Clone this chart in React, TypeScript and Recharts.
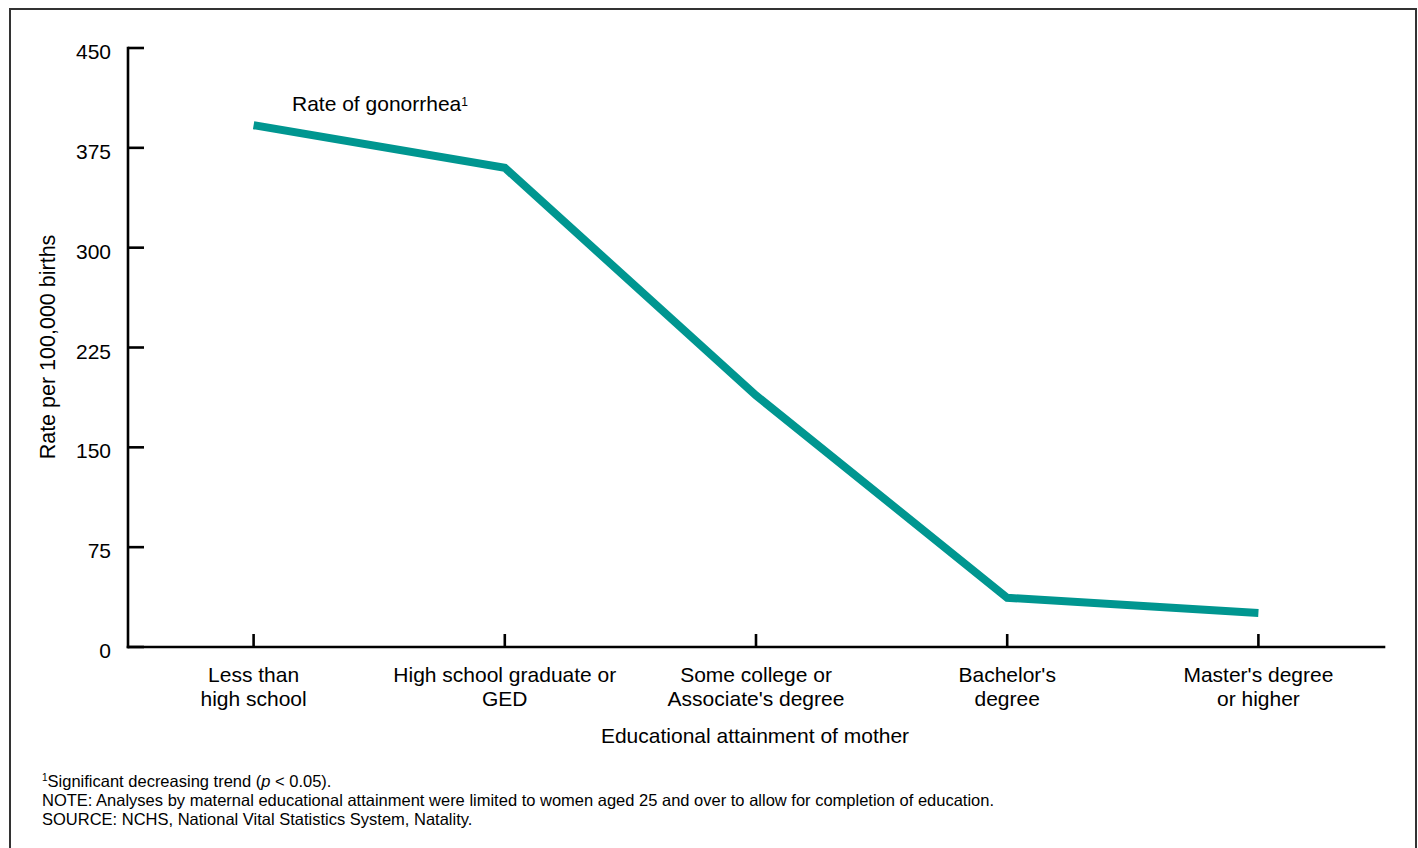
import { LineChart, Line, XAxis, YAxis } from "recharts";

// Maternal education levels, with the two-line labels used under the axis
const educationLevels = [
  "Less than high school",
  "High school graduate or GED",
  "Some college or Associate's degree",
  "Bachelor's degree",
  "Master's degree or higher",
];
const educationLabelLines = [
  ["Less than", "high school"],
  ["High school graduate or", "GED"],
  ["Some college or", "Associate's degree"],
  ["Bachelor's", "degree"],
  ["Master's degree", "or higher"],
];

// Rate of gonorrhea per 100,000 births
const gonorrheaRates = [392, 360, 189, 37, 25.5];

const rateTicks = [0, 75, 150, 225, 300, 375, 450];

const data = educationLevels.map((level, i) => ({
  level,
  rate: gonorrheaRates[i],
}));

const FONT = "'Liberation Sans', Arial, Helvetica, sans-serif";
const TEAL = "#009690";

const EducationTick = (props: any) => {
  const { x, y, payload } = props;
  const lines = educationLabelLines[educationLevels.indexOf(payload.value)] || [payload.value];
  return (
    <g>
      <line x1={x} x2={x} y1={y} y2={y - 13} stroke="#000" strokeWidth={2.6} />
      <text x={x} y={y + 35} textAnchor="middle" fontSize={21} fontFamily={FONT} fill="#000">
        {lines.map((line: string, i: number) => (
          <tspan key={i} x={x} dy={i === 0 ? 0 : 24}>
            {line}
          </tspan>
        ))}
      </text>
    </g>
  );
};

const RateTick = (props: any) => {
  const { x, y, payload } = props;
  return (
    <g>
      <line x1={x} x2={x + 16} y1={y} y2={y} stroke="#000" strokeWidth={2.6} />
      <text x={x - 17} y={y + 11} textAnchor="end" fontSize={21} fontFamily={FONT} fill="#000">
        {payload.value}
      </text>
    </g>
  );
};

export default function App() {
  return (
    <div
      style={{
        position: "absolute",
        left: 0,
        top: 0,
        width: 1418,
        height: 848,
        background: "#fff",
        overflow: "hidden",
        fontFamily: FONT,
      }}
    >
      <LineChart
        width={1418}
        height={848}
        data={data}
        margin={{ top: 48, right: 34, bottom: 171, left: 58 }}
      >
        <XAxis
          dataKey="level"
          scale="band"
          interval={0}
          height={30}
          tickSize={0}
          tickMargin={0}
          tickLine={false}
          tick={<EducationTick />}
          axisLine={{ stroke: "#000", strokeWidth: 2.6, strokeLinecap: "square" }}
        />
        <YAxis
          domain={[0, 450]}
          ticks={rateTicks}
          width={70}
          tickSize={0}
          tickMargin={0}
          tickLine={false}
          tick={<RateTick />}
          axisLine={{ stroke: "#000", strokeWidth: 2.6, strokeLinecap: "square" }}
        />
        <Line
          type="linear"
          dataKey="rate"
          stroke={TEAL}
          strokeWidth={8}
          dot={false}
          activeDot={false}
          isAnimationActive={false}
        />
      </LineChart>

      <svg
        width={1418}
        height={848}
        style={{ position: "absolute", left: 0, top: 0, pointerEvents: "none" }}
        fontFamily={FONT}
      >
        {/* open-bottomed frame */}
        <path d="M10 860 V9 H1416 V860" fill="none" stroke="#333" strokeWidth={2} />

        <text x={292} y={111} fontSize={21} fill="#000">
          <tspan>Rate of gonorrhea</tspan>
          <tspan fontSize={12} dy={-5}>1</tspan>
        </text>

        <text
          x={55}
          y={347}
          fontSize={21.5}
          fill="#000"
          textAnchor="middle"
          transform="rotate(-90 55 347)"
        >
          Rate per 100,000 births
        </text>

        <text x={755} y={743} fontSize={21} fill="#000" textAnchor="middle">
          Educational attainment of mother
        </text>

        <g fontSize={16.5} fill="#000">
          <text x={42} y={787}>
            <tspan fontSize={10} dy={-6}>1</tspan>
            <tspan dy={6}>Significant decreasing trend (</tspan>
            <tspan fontStyle="italic">p</tspan>
            <tspan>{" < 0.05)."}</tspan>
          </text>
          <text x={42} y={806}>
            NOTE: Analyses by maternal educational attainment were limited to women aged 25 and over to allow for completion of education.
          </text>
          <text x={42} y={825}>
            SOURCE: NCHS, National Vital Statistics System, Natality.
          </text>
        </g>
      </svg>
    </div>
  );
}
